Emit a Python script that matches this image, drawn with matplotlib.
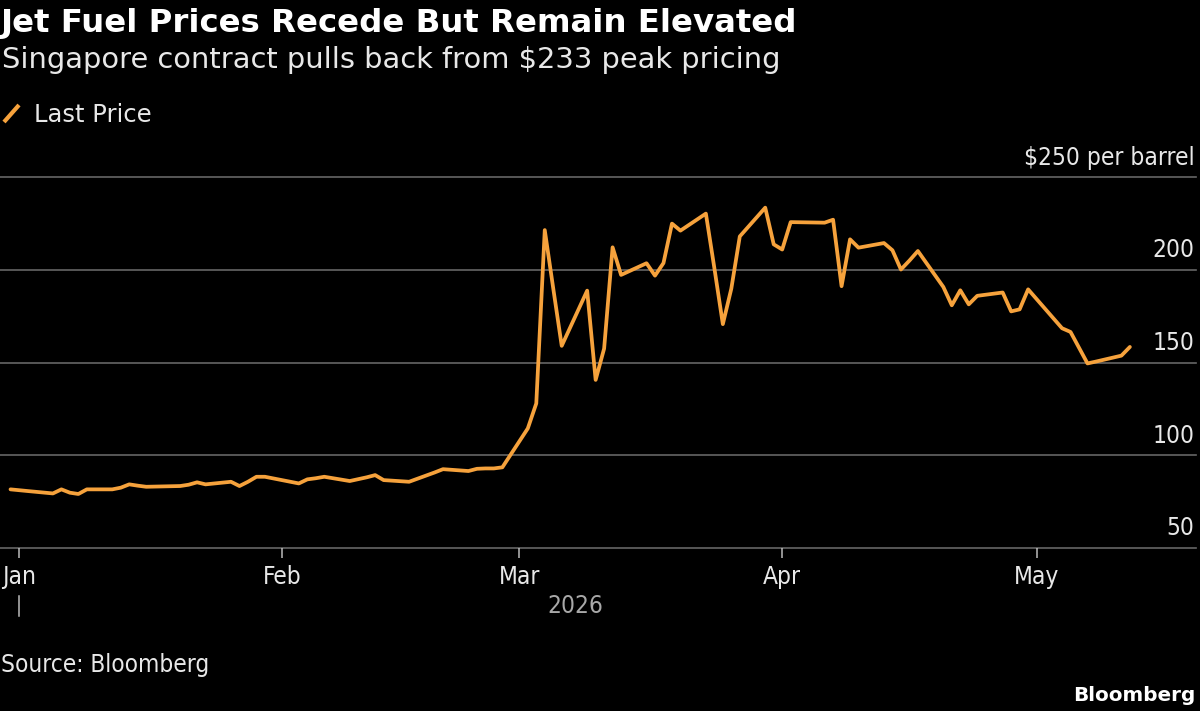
import matplotlib
matplotlib.use("Agg")
import matplotlib.pyplot as plt
import matplotlib.dates as mdates
from matplotlib.lines import Line2D
import pandas as pd

# ---------------- data ----------------
dates = [
    "2025-12-31", "2026-01-02", "2026-01-05", "2026-01-06", "2026-01-07", "2026-01-08", "2026-01-09",
    "2026-01-12", "2026-01-13", "2026-01-14", "2026-01-15", "2026-01-16",
    "2026-01-19", "2026-01-20", "2026-01-21", "2026-01-22", "2026-01-23",
    "2026-01-26", "2026-01-27", "2026-01-28", "2026-01-29", "2026-01-30",
    "2026-02-02", "2026-02-03", "2026-02-04", "2026-02-05", "2026-02-06",
    "2026-02-09", "2026-02-10", "2026-02-11", "2026-02-12", "2026-02-13",
    "2026-02-16", "2026-02-19", "2026-02-20",
    "2026-02-23", "2026-02-24", "2026-02-25", "2026-02-26", "2026-02-27",
    "2026-03-02", "2026-03-03", "2026-03-04", "2026-03-05", "2026-03-06",
    "2026-03-09", "2026-03-10", "2026-03-11", "2026-03-12", "2026-03-13",
    "2026-03-16", "2026-03-17", "2026-03-18", "2026-03-19", "2026-03-20",
    "2026-03-23", "2026-03-24", "2026-03-25", "2026-03-26", "2026-03-27",
    "2026-03-30", "2026-03-31", "2026-04-01", "2026-04-02",
    "2026-04-06", "2026-04-07", "2026-04-08", "2026-04-09", "2026-04-10",
    "2026-04-13", "2026-04-14", "2026-04-15", "2026-04-16", "2026-04-17",
    "2026-04-20", "2026-04-21", "2026-04-22", "2026-04-23", "2026-04-24",
    "2026-04-27", "2026-04-28", "2026-04-29", "2026-04-30",
    "2026-05-04", "2026-05-05", "2026-05-06", "2026-05-07", "2026-05-08",
    "2026-05-11", "2026-05-12",
]
prices = [
    81.5, 80.6, 79.3, 81.5, 79.7, 79.0, 81.5,
    81.5, 82.4, 84.2, 83.5, 82.9,
    83.2, 83.3, 84.0, 85.3, 84.2,
    85.6, 83.3, 85.6, 88.3, 88.3,
    85.6, 84.7, 86.9, 87.5, 88.3,
    86.0, 87.0, 88.0, 89.2, 86.5,
    85.6, 90.6, 92.4,
    91.4, 92.6, 92.8, 92.8, 93.4,
    114.4, 127.9, 221.5, 190.0, 159.0,
    188.8, 140.6, 157.5, 212.2, 197.3,
    203.6, 196.9, 203.7, 225.0, 221.2,
    230.4, 201.0, 170.7, 189.9, 218.1,
    233.6, 213.8, 211.0, 225.8,
    225.5, 227.1, 191.2, 216.5, 212.0,
    214.5, 210.6, 200.2, 205.0, 210.2,
    190.8, 180.9, 189.0, 181.4, 186.0,
    187.8, 177.6, 178.7, 189.5,
    168.5, 166.5, 158.0, 149.5, 150.5,
    153.7, 158.4,
]
y_ticks = [50, 100, 150, 200, 250]
y_tick_labels = ["50", "100", "150", "200", "$250 per barrel"]
month_ticks = ["2026-01-01", "2026-02-01", "2026-03-01", "2026-04-01", "2026-05-01"]
month_labels = ["Jan", "Feb", "Mar", "Apr", "May"]
year_label = "2026"
series_name = "Last Price"
title = "Jet Fuel Prices Recede But Remain Elevated"
subtitle = "Singapore contract pulls back from $233 peak pricing"
source = "Source: Bloomberg"
brand = "Bloomberg"

# ---------------- style ----------------
W, H = 1200, 711
BG = "#000000"
ORANGE = "#f6a23c"
GRID = "#666666"
TXT = "#e8e8e8"
FONT = "DejaVu Sans"
COND = "condensed"

fig = plt.figure(figsize=(W / 100, H / 100), dpi=100, facecolor=BG)


def fx(x):
    return x / W


def fy(y):
    return 1 - y / H


def fit(t, width_px):
    fig.canvas.draw()
    r = fig.canvas.get_renderer()
    w = t.get_window_extent(r).width
    t.set_fontsize(t.get_fontsize() * width_px / w)
    return t.get_fontsize()


ax_top, ax_bot, ax_right = 177.3, 547.7, 1196
ax = fig.add_axes([0, fy(ax_bot), fx(ax_right), (ax_bot - ax_top) / H])
ax.set_facecolor(BG)

d = pd.to_datetime(dates)
ax.plot(d, prices, color=ORANGE, lw=2.7, zorder=3, solid_capstyle="round")

jan1 = mdates.date2num(pd.Timestamp("2026-01-01"))
px_per_day = 8.48
left = jan1 - 19 / px_per_day
ax.set_xlim(left, left + ax_right / px_per_day)
ax.set_ylim(50, 250)

for v in y_ticks:
    ax.axhline(v, color=GRID, lw=1.2, zorder=1, clip_on=False)

for s in ax.spines.values():
    s.set_visible(False)
ax.set_yticks([])
ax.set_xticks(pd.to_datetime(month_ticks))
ax.set_xticklabels(month_labels)
ax.tick_params(axis="x", direction="out", length=7.5, width=1.1, color="#bbbbbb",
               pad=5, labelcolor=TXT, labelsize=16)
for lab in ax.get_xticklabels():
    lab.set_fontfamily(FONT)
    lab.set_fontstretch(COND)

# y labels (right-aligned above gridlines)
ylabs = []
for v, lbl in zip(y_ticks, y_tick_labels):
    t = ax.annotate(lbl, xy=(1, v), xycoords=("axes fraction", "data"),
                    xytext=(-1, 9), textcoords="offset points", ha="right",
                    va="baseline", color=TXT, fontsize=16, family=FONT,
                    fontstretch=COND, annotation_clip=False)
    ylabs.append(t)
size_axis = fit(ylabs[-1], 171)
for t in ylabs:
    t.set_fontsize(size_axis)
for lab in ax.get_xticklabels():
    lab.set_fontsize(size_axis)

# year label and marker under Jan
fig.text(fx(575), fy(606), year_label, ha="center", va="center", color="#a8a8a8",
         fontsize=size_axis, family=FONT, fontstretch=COND)
fig.add_artist(Line2D([fx(19), fx(19)], [fy(596), fy(616)], color="#bbbbbb", lw=1.1))

# title, subtitle
t_title = fig.text(fx(1), fy(32), title, ha="left", va="baseline", color="white",
                   fontsize=24, fontweight="bold", family=FONT)
fit(t_title, 797)
t_sub = fig.text(fx(2), fy(68), subtitle, ha="left", va="baseline", color=TXT,
                 fontsize=20, family=FONT)
fit(t_sub, 777)

# legend
fig.add_artist(Line2D([fx(4), fx(19)], [fy(122), fy(105)], color=ORANGE, lw=3,
                      solid_capstyle="butt"))
t_leg = fig.text(fx(34), fy(122), series_name, ha="left", va="baseline", color=TXT,
                 fontsize=16, family=FONT)
fit(t_leg, 118)

# footer
t_src = fig.text(fx(1), fy(672), source, ha="left", va="baseline", color=TXT,
                 fontsize=16, family=FONT, fontstretch=COND)
fit(t_src, 209)
t_brand = fig.text(fx(1195), fy(701), brand, ha="right", va="baseline", color="white",
                   fontsize=16, fontweight="bold", family=FONT)
fit(t_brand, 123)

fig.savefig("out.png", dpi=100, facecolor=BG)
